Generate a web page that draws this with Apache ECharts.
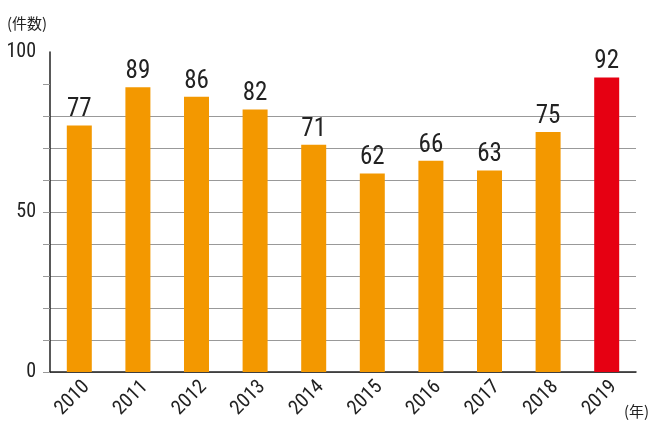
<!DOCTYPE html>
<html><head><meta charset="utf-8">
<script src="https://cdn.jsdelivr.net/npm/echarts@6/dist/echarts.min.js"></script>
<style>html,body{margin:0;padding:0;background:#fff}#c{width:650px;height:439px}</style>
</head><body><div id="c"></div>
<script>
const years = ['2010','2011','2012','2013','2014','2015','2016','2017','2018','2019'];
const counts = [77, 89, 86, 82, 71, 62, 66, 63, 75, 92];
const highlightYear = '2019';
const yTickValues = [0,10,20,30,40,50,60,70,80,90];
const yLabelValues = [0,50,100];
const ORANGE = '#F39800', RED = '#E60012';
const FONT = '"Roboto Condensed",sans-serif';
const chart = echarts.init(document.getElementById('c'));
chart.setOption({
  animation: false,
  title: [
    {text: '(件数)', left: 2, top: 11, textStyle: {fontFamily: '"Noto Sans CJK JP",sans-serif', fontSize: 15, fontWeight: 'normal', color: '#222'}},
    {text: '(年)', left: 619, top: 399, textStyle: {fontFamily: '"Noto Sans CJK JP",sans-serif', fontSize: 15, fontWeight: 'normal', color: '#222'}}
  ],
  grid: {left: 50, right: 14, top: 52, bottom: 67},
  xAxis: {
    type: 'category', data: years,
    axisLine: {lineStyle: {color: '#222', width: 1.5}},
    axisTick: {length: 6, lineStyle: {color: '#222', width: 1.5}},
    axisLabel: {rotate: 45, fontFamily: FONT, fontSize: 20, color: '#222', margin: 5, verticalAlign: 'top', interval: 0}
  },
  yAxis: {
    type: 'value', min: 0, max: 100,
    axisLine: {show: true, lineStyle: {color: '#222', width: 1.5}},
    axisTick: {show: true, inside: false, length: 7, customValues: yTickValues, lineStyle: {color: '#999'}},
    axisLabel: {customValues: yLabelValues, fontFamily: FONT, fontSize: 20, color: '#222', margin: 14},
    splitLine: {show: true, showMaxLine: false, lineStyle: {color: '#999', width: 1}}
  },
  series: [{
    type: 'bar', barWidth: 25,
    data: counts.map((v, i) => ({value: v, itemStyle: {color: years[i] === highlightYear ? RED : ORANGE}})),
    label: {show: true, position: 'top', distance: 3, fontFamily: FONT, fontSize: 25, color: '#222'}
  }]
});
</script></body></html>
